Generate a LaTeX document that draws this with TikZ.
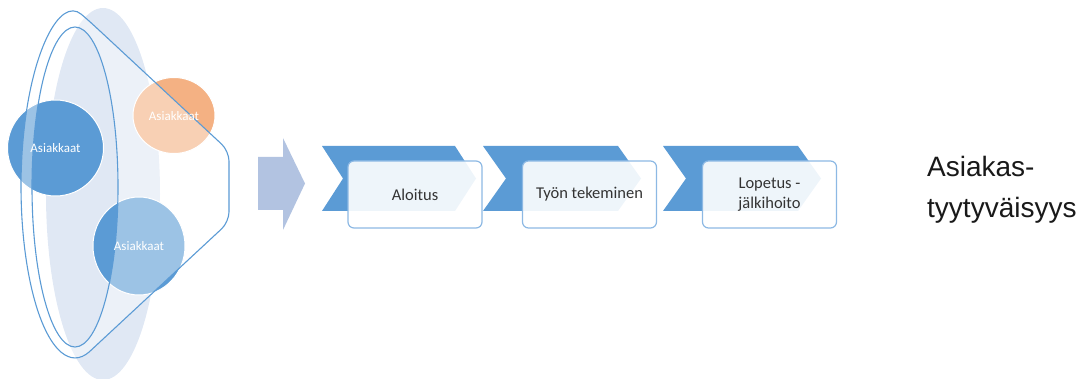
\documentclass[tikz,border=0pt]{standalone}
\usepackage{fontspec}
\setmainfont{Carlito}
\newfontfamily\arialfont{Liberation Sans}
\usetikzlibrary{shapes.geometric}
\definecolor{accent}{HTML}{5B9BD5}
\definecolor{bgell}{HTML}{E0E8F4}
\definecolor{orangec}{HTML}{F4B183}
\definecolor{boxline}{HTML}{8DB9E4}
\definecolor{txtgray}{HTML}{333333}
\definecolor{arrowc}{HTML}{B2C3E1}
\tikzset{
  circ/.style={draw=white, line width=1pt},
  circtext/.style={text=white, font=\fontsize{13}{15}\selectfont, inner sep=0pt},
  chev/.style={fill=accent, draw=none},
  stepbox/.style={draw=boxline, line width=1.2pt, fill=white, fill opacity=0.9, text opacity=1,
    rounded corners=6pt, minimum width=134pt, minimum height=67pt, inner sep=0pt,
    text=txtgray, align=center, font=\fontsize{16.5}{19.5}\selectfont},
  outline/.style={draw=accent, line width=1.1pt},
}
\begin{document}
\begin{tikzpicture}[x=1pt,y=-1pt]
\useasboundingbox (0,0) rectangle (1090,379);
% background ellipse
\fill[bgell] (103,194) ellipse [x radius=57pt, y radius=186pt];
% circles
\fill[accent, circ] (55.5,148) circle [radius=48pt];
\fill[orangec, circ] (174,115.5) ellipse [x radius=41pt, y radius=38pt];
\fill[accent, circ] (139,246) ellipse [x radius=46pt, y radius=49pt];
% funnel ring overlay
\fill[white, fill opacity=0.4, even odd rule]
  (89,20.8) arc[start angle=75, end angle=285, x radius=54pt, y radius=171.5pt]
  [rounded corners=10pt] -- (229,222) -- (229,151) -- cycle
  (75,187) ellipse [x radius=43pt, y radius=160pt];
% funnel outlines
\draw[outline]
  (89,20.8) arc[start angle=75, end angle=285, x radius=54pt, y radius=171.5pt]
  [rounded corners=10pt] -- (229,222) -- (229,151) -- cycle;
\draw[outline] (75,187) ellipse [x radius=43pt, y radius=160pt];
% circle labels
\node[circtext] (c1) at (55.5,148) {Asiakkaat};
\node[circtext] (c2) at (174,116) {Asiakkaat};
\node[circtext] (c3) at (139,246) {Asiakkaat};
% big arrow
\fill[arrowc]
  (258,157) -- (283,157) -- (283,138) -- (305,183.5) -- (283,230) -- (283,210) -- (258,210) -- cycle;
% chevrons
\fill[chev] (322,146) -- (455,146) -- (476,178.5) -- (455,211) -- (322,211) -- (343,178.5) -- cycle;
\fill[chev] (483,146) -- (618,146) -- (641,178.5) -- (618,211) -- (483,211) -- (506,178.5) -- cycle;
\fill[chev] (663,146) -- (798,146) -- (821,178.5) -- (798,211) -- (663,211) -- (686,178.5) -- cycle;
% boxes
\node[stepbox] (b1) at (415,194.5) {Aloitus};
\node[stepbox] (b2) at (589.5,194.5) {Työn tekeminen};
\node[stepbox] (b3) at (769.5,194.5) {Lopetus -\\jälkihoito};
% right text
\node[anchor=north west, inner sep=0pt, align=left, text=black!90,
  font=\arialfont\fontsize{28}{41}\selectfont] (res) at (927,156.5) {Asiakas-\\tyytyväisyys};
\end{tikzpicture}
\end{document}
